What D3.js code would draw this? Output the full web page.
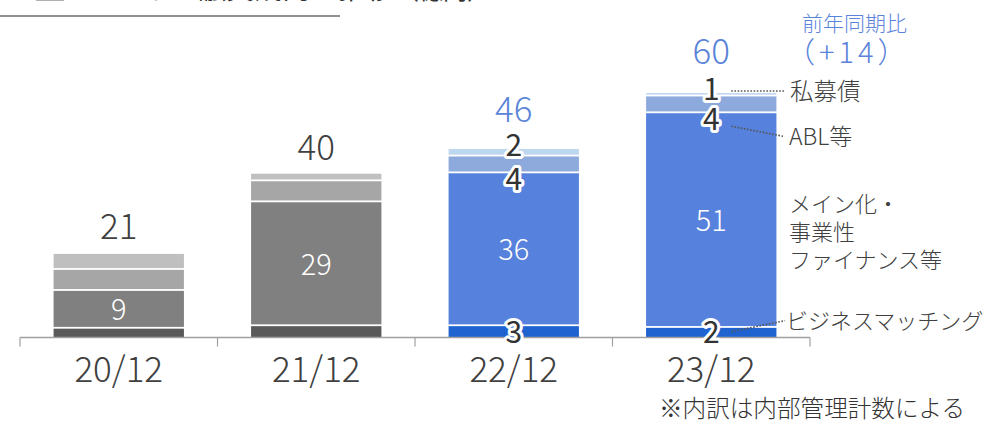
<!DOCTYPE html>
<html><head><meta charset="utf-8">
<script src="https://cdn.jsdelivr.net/npm/d3@7"></script>
<style>
html,body{margin:0;padding:0;background:#fff;}
svg{display:block;font-family:"Noto Sans CJK JP","Noto Sans",sans-serif;}
</style></head>
<body><svg id="c" width="989" height="427"></svg>
<script>
// ---- data ----
const categories = ["20/12", "21/12", "22/12", "23/12"];
const bizMatching = [2.1, 2.7, 2.7, 2.3];   // ビジネスマッチング
const mainFinance = [9.0, 29.5, 36.4, 51.1]; // メイン化・事業性ファイナンス等
const ablEtc = [5.0, 5.0, 4.0, 4.0];        // ABL等
const privateBonds = [3.8, 1.8, 1.8, 0.8];  // 私募債
const totalLabels = ["21", "40", "46", "60"];
const mainLabels = ["9", "29", "36", "51"];
const bizLabels = ["", "", "3", "2"];
const ablLabels = ["", "", "4", "4"];
const bondLabels = ["", "", "2", "1"];
const seriesNames = ["ビジネスマッチング", "メイン化・事業性ファイナンス等", "ABL等", "私募債"];
const yoyTitle = "前年同期比";
const yoyValue = "（+14）";
const footnote = "※内訳は内部管理計数による";
const titleText = "ビジネス融資残高の推移";
const unitText = "（億円）";

// ---- layout ----
const svg = d3.select("#c");
const x = d3.scaleBand().domain(categories).range([20, 810]).paddingInner(0.34).paddingOuter(0.17);
const y = d3.scaleLinear().domain([0, 60]).range([337.5, 85.5]);

const grayCols = ["#595959", "#808080", "#a6a6a6", "#bfbfbf"];
const blueCols = ["#1f63d1", "#5681dc", "#8eaadd", "#bdd7ef"];
const series = [bizMatching, mainFinance, ablEtc, privateBonds];
const W = 300;

// title fragment (cut off at top)
svg.append("rect").attr("x", 36).attr("y", -20).attr("width", 28).attr("height", 21).attr("fill", "#b0b0b0");
svg.append("text").attr("x", 86).attr("y", -1).attr("font-size", 28).attr("fill", "#333").text(titleText);
svg.append("text").attr("x", 395).attr("y", -1).attr("font-size", 24).attr("fill", "#333").text(unitText);
svg.append("line").attr("x1", 0).attr("x2", 340).attr("y1", 16).attr("y2", 16).attr("stroke", "#6a6a6a").attr("stroke-width", 1.5);

// stacked bars
const bars = categories.map((c, i) => {
  let acc = 0;
  return series.map((s, k) => {
    const y0 = acc; acc += s[i];
    return {cat: c, i, k, y0, y1: acc};
  });
});
const gap = 1.8;
svg.append("g").selectAll("rect").data(bars.flat()).join("rect")
  .attr("x", d => x(d.cat))
  .attr("width", x.bandwidth())
  .attr("y", d => y(d.y1))
  .attr("height", d => Math.max(0, y(d.y0) - y(d.y1) - (d.k === 0 ? 0 : gap)))
  .attr("fill", d => (d.i < 2 ? grayCols : blueCols)[d.k]);

// axis
const axisY = 337.5;
svg.append("line").attr("x1", 20).attr("x2", 810).attr("y1", axisY).attr("y2", axisY).attr("stroke", "#a0a0a0").attr("stroke-width", 1.5);
const tickXs = categories.map(c => x(c) - x.step() * x.paddingInner() / 2).concat([810]);
svg.append("g").selectAll("line").data(tickXs).join("line")
  .attr("x1", d => d).attr("x2", d => d).attr("y1", axisY).attr("y2", axisY + 9)
  .attr("stroke", "#a0a0a0").attr("stroke-width", 1.2);
svg.append("g").selectAll("text").data(categories).join("text")
  .attr("x", d => x(d) + x.bandwidth() / 2).attr("y", 382)
  .attr("text-anchor", "middle").attr("font-size", 35).attr("font-weight", W).attr("fill", "#404040").text(d => d);

const cx = i => x(categories[i]) + x.bandwidth() / 2;

// main segment labels (white)
svg.append("g").selectAll("text").data(mainLabels).join("text")
  .attr("x", (d, i) => cx(i))
  .attr("y", (d, i) => (y(bars[i][1].y0) + y(bars[i][1].y1)) / 2)
  .attr("dy", "0.36em").attr("text-anchor", "middle")
  .attr("font-size", 29).attr("font-weight", W).attr("fill", "#fff").text(d => d);

// small haloed labels
function halo(arr, yfn) {
  svg.append("g").selectAll("text").data(arr.map((t, i) => ({t, i})).filter(d => d.t)).join("text")
    .attr("x", d => cx(d.i)).attr("y", d => yfn(d.i)).attr("dy", "0.36em")
    .attr("text-anchor", "middle").attr("font-size", 30).attr("fill", "#333")
    .attr("stroke", "#fff").attr("stroke-width", 6).attr("stroke-linejoin", "round")
    .attr("paint-order", "stroke").text(d => d.t);
}
halo(bizLabels, i => (y(bars[i][0].y0) + y(bars[i][0].y1)) / 2);
halo(ablLabels, i => y(bars[i][2].y0) + 6);
halo(bondLabels, i => y(bars[i][3].y1) - 4);

// total labels
svg.append("g").selectAll("text").data(totalLabels).join("text")
  .attr("x", (d, i) => cx(i))
  .attr("y", (d, i) => y(+d) - (bondLabels[i] ? 22 : 10))
  .attr("text-anchor", "middle").attr("font-size", 35).attr("font-weight", W)
  .attr("fill", (d, i) => i < 2 ? "#404040" : "#5a84d9").text(d => d);

// year-on-year
svg.append("text").attr("x", 802).attr("y", 31).attr("font-size", 21).attr("font-weight", W).attr("fill", "#5a84d9").text(yoyTitle);
svg.append("text").attr("x", 786).attr("y", 63).attr("font-size", 29).attr("font-weight", W).attr("letter-spacing", 4).attr("fill", "#5a84d9").text(yoyValue);

// annotations with dotted leaders
const lastI = 3;
const leaders = [
  {x1: cx(lastI) + 20, y1: y(bars[lastI][3].y1) - 2, x2: 785, y2: y(bars[lastI][3].y1) - 2},
  {x1: cx(lastI) + 20, y1: y(bars[lastI][2].y0) + 13, x2: 783, y2: y(bars[lastI][2].y0) + 23},
  {x1: cx(lastI) + 20, y1: (y(bars[lastI][0].y0) + y(bars[lastI][0].y1)) / 2 - 1, x2: 785, y2: (y(bars[lastI][0].y0) + y(bars[lastI][0].y1)) / 2 - 12}
];
svg.append("g").selectAll("line").data(leaders).join("line")
  .attr("x1", d => d.x1).attr("y1", d => d.y1).attr("x2", d => d.x2).attr("y2", d => d.y2)
  .attr("stroke", "#555").attr("stroke-width", 1.6).attr("stroke-dasharray", "1.6,1.6");

const ann = svg.append("g").attr("font-size", 22).attr("font-weight", W).attr("fill", "#404040");
ann.append("text").attr("x", 790).attr("y", leaders[0].y2).attr("dy", "0.36em").attr("font-size", 23.5).text(seriesNames[3]);
ann.append("text").attr("x", 789).attr("y", leaders[1].y2).attr("dy", "0.36em").attr("font-size", 23).text(seriesNames[2]);
const mainLines = ["メイン化・", "事業性", "ファイナンス等"];
ann.append("text").attr("x", 789).attr("y", 204)
  .selectAll("tspan").data(mainLines).join("tspan")
  .attr("x", 789).attr("dy", (d, i) => i === 0 ? "0.36em" : 28).text(d => d);
ann.append("text").attr("x", 786).attr("y", leaders[2].y2).attr("dy", "0.36em").text(seriesNames[0]);

// footnote
svg.append("text").attr("x", 659).attr("y", 417).attr("font-size", 23.6).attr("font-weight", W).attr("fill", "#333").text(footnote);
</script></body></html>
